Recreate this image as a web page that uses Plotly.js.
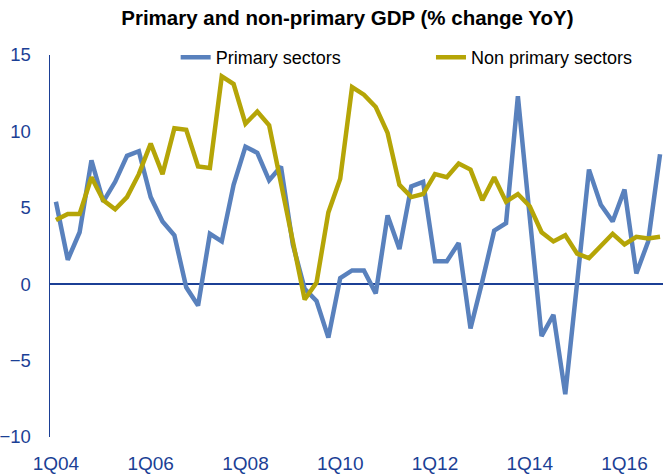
<!DOCTYPE html>
<html>
<head>
<meta charset="utf-8">
<script src="https://cdn.plot.ly/plotly-3.0.1.min.js"></script>
<style>html,body{margin:0;padding:0;background:#fff;}#chart{width:663px;height:475px;}</style>
</head>
<body>
<div id="chart"></div>
<script>
var quarters = [
  "1Q04","2Q04","3Q04","4Q04","1Q05","2Q05","3Q05","4Q05",
  "1Q06","2Q06","3Q06","4Q06","1Q07","2Q07","3Q07","4Q07",
  "1Q08","2Q08","3Q08","4Q08","1Q09","2Q09","3Q09","4Q09",
  "1Q10","2Q10","3Q10","4Q10","1Q11","2Q11","3Q11","4Q11",
  "1Q12","2Q12","3Q12","4Q12","1Q13","2Q13","3Q13","4Q13",
  "1Q14","2Q14","3Q14","4Q14","1Q15","2Q15","3Q15","4Q15",
  "1Q16","2Q16","3Q16","4Q16"
];
var primarySectors = [
  5.4, 1.6, 3.4, 8.1, 5.4, 6.7, 8.4, 8.7,
  5.7, 4.1, 3.2, -0.2, -1.4, 3.3, 2.8, 6.5,
  9.0, 8.6, 6.8, 7.7, 2.6, -0.3, -1.1, -3.5,
  0.4, 0.9, 0.9, -0.6, 4.5, 2.3, 6.4, 6.7,
  1.5, 1.5, 2.7, -2.9, 0.2, 3.5, 4.0, 12.3,
  4.4, -3.4, -2.0, -7.2, 0.1, 7.5, 5.2, 4.1,
  6.2, 0.7, 2.8, 8.5
];
var nonPrimarySectors = [
  4.2, 4.6, 4.6, 7.0, 5.5, 4.9, 5.7, 7.2,
  9.2, 7.2, 10.2, 10.1, 7.7, 7.6, 13.6, 13.1,
  10.5, 11.3, 10.4, 6.6, 2.6, -1.0, 0.1, 4.7,
  6.9, 12.9, 12.4, 11.6, 9.9, 6.5, 5.7, 5.9,
  7.2, 7.0, 7.9, 7.5, 5.5, 7.0, 5.4, 5.9,
  5.1, 3.4, 2.8, 3.2, 2.0, 1.7, 2.5, 3.3,
  2.6, 3.1, 3.0, 3.1
];
var xTickLabels = ["1Q04","1Q06","1Q08","1Q10","1Q12","1Q14","1Q16"];
var yTickValues = [-10, -5, 0, 5, 10, 15];

var axisBlue = "#1b3f95";
var traces = [
  {x: quarters, y: primarySectors, type: "scatter", mode: "lines", name: "Primary sectors",
   line: {color: "#5981bd", width: 4.5}, legend: "legend"},
  {x: quarters, y: nonPrimarySectors, type: "scatter", mode: "lines", name: "Non primary sectors",
   line: {color: "#b5a507", width: 4.5}, legend: "legend2"}
];
var legendCommon = {orientation: "h", xanchor: "left", y: 0.993, yanchor: "middle",
                    font: {size: 18, color: "#000"}, bgcolor: "rgba(0,0,0,0)"};
var layout = {
  width: 663, height: 475,
  margin: {l: 50, r: 0, t: 55, b: 38},
  paper_bgcolor: "#fff", plot_bgcolor: "#fff",
  font: {family: "Liberation Sans, Arial, sans-serif", color: "#000"},
  title: {text: "<b>Primary and non-primary GDP (% change YoY)</b>",
          font: {size: 20.5, color: "#000"}, x: 0.524, xanchor: "center", y: 0.963, yanchor: "middle"},
  showlegend: true,
  legend: Object.assign({x: 0.205}, legendCommon),
  legend2: Object.assign({x: 0.6215}, legendCommon),
  xaxis: {type: "category", categoryorder: "array", categoryarray: quarters,
          range: [-0.5, 51.25], tickmode: "array", tickvals: xTickLabels, ticktext: xTickLabels,
          showgrid: false, showline: false, zeroline: false, ticks: "",
          tickfont: {size: 19, color: axisBlue}, ticklabelstandoff: 13, fixedrange: true},
  yaxis: {range: [-10, 15], tickmode: "array", tickvals: yTickValues,
          showgrid: false, showline: true, linecolor: axisBlue, linewidth: 1.5,
          zeroline: true, zerolinecolor: axisBlue, zerolinewidth: 1.5, ticks: "",
          tickfont: {size: 18.5, color: axisBlue}, ticklabelstandoff: 14, fixedrange: true}
};
Plotly.newPlot("chart", traces, layout, {displayModeBar: false, staticPlot: true});
</script>
</body>
</html>
